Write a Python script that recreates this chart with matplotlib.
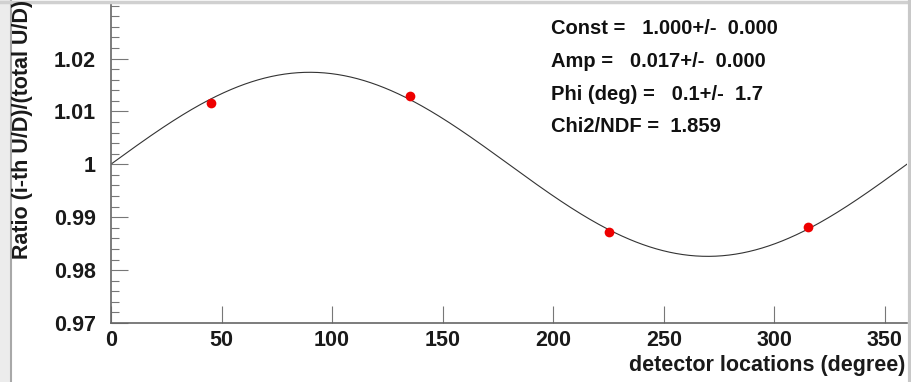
import numpy as np
import matplotlib
matplotlib.use("Agg")
import matplotlib.pyplot as plt
from matplotlib.ticker import MultipleLocator
from matplotlib.patches import Rectangle
from matplotlib.lines import Line2D

# Measured ratios at the four detector positions
angles = [45, 135, 225, 315]
ratios = [1.0116, 1.0129, 0.9872, 0.9881]

# Fit parameters: Const + Amp * sin(x + Phi)
fit_const = 1.000
fit_amp = 0.0174
fit_phi = 0.1

stat_lines = [
    "Const =   1.000+/-  0.000",
    "Amp =   0.017+/-  0.000",
    "Phi (deg) =   0.1+/-  1.7",
    "Chi2/NDF =  1.859",
]

xticks = [0, 50, 100, 150, 200, 250, 300, 350]
yticks = [0.97, 0.98, 0.99, 1.0, 1.01, 1.02]
ytick_labels = ["0.97", "0.98", "0.99", "1", "1.01", "1.02"]

plt.rcParams["font.family"] = ["Liberation Sans", "DejaVu Sans"]

W, H = 912, 382
fig = plt.figure(figsize=(W / 100, H / 100), dpi=100)

# window chrome: left strip, top and right borders
fig.patches.append(Rectangle((0, 0), 11 / W, 1, transform=fig.transFigure,
                             facecolor="#ececec", edgecolor="none", zorder=0))
fig.lines.append(Line2D([11.5 / W, 11.5 / W], [0, 1], transform=fig.transFigure,
                        color="#a8a8a8", lw=1.5))
fig.lines.append(Line2D([0, 1], [1 - 1.5 / H, 1 - 1.5 / H], transform=fig.transFigure,
                        color="#d0d0d0", lw=2.5))
fig.lines.append(Line2D([1 - 2 / W, 1 - 2 / W], [0, 1], transform=fig.transFigure,
                        color="#c8c8c8", lw=3))

left, right, top, bottom = 111, 907, 3, 323
ax = fig.add_axes([left / W, (H - bottom) / H, (right - left) / W, (bottom - top) / H])
ax.set_xlim(0, 360)
ax.set_ylim(0.97, 1.0305)

for s in ("top", "right"):
    ax.spines[s].set_visible(False)
for s in ("left", "bottom"):
    ax.spines[s].set_color("#666666")
    ax.spines[s].set_linewidth(1.2)

ax.set_xticks(xticks)
ax.set_xticklabels([str(t) for t in xticks])
ax.set_yticks(yticks)
ax.set_yticklabels(ytick_labels)
ax.yaxis.set_minor_locator(MultipleLocator(0.002))

ax.tick_params(axis="both", which="major", direction="in", length=12, width=0.8,
               color="#777777", labelsize=15.5, labelcolor="#1a1a1a")
ax.tick_params(axis="y", which="minor", direction="in", length=6, width=0.8,
               color="#777777")
ax.tick_params(axis="x", pad=5)
ax.tick_params(axis="y", pad=11)
for lab in ax.get_xticklabels() + ax.get_yticklabels():
    lab.set_fontweight("bold")

# fitted curve
xs = np.linspace(0, 360, 721)
ax.plot(xs, fit_const + fit_amp * np.sin(np.radians(xs + fit_phi)),
        color="#333333", lw=0.8, zorder=2)

# measured points
ax.plot(angles, ratios, "o", color="#ee0000", markersize=7, markeredgewidth=0, zorder=3)

# fit statistics
for i, line in enumerate(stat_lines):
    fig.text(551 / W, 1 - (29 + i * 32.5) / H, line, fontsize=14.5, fontweight="bold",
             color="#111111", va="center", ha="left")

fig.text(23 / W, 1.0, "Ratio (i-th U/D)/(total U/D)", rotation=90, fontsize=15.5,
         fontweight="bold", color="#1a1a1a", ha="center", va="top")
fig.text(905 / W, 1 - 366 / H, "detector locations (degree)", fontsize=15.5,
         fontweight="bold", color="#1a1a1a", ha="right", va="center")

fig.savefig("out.png", dpi=100)
